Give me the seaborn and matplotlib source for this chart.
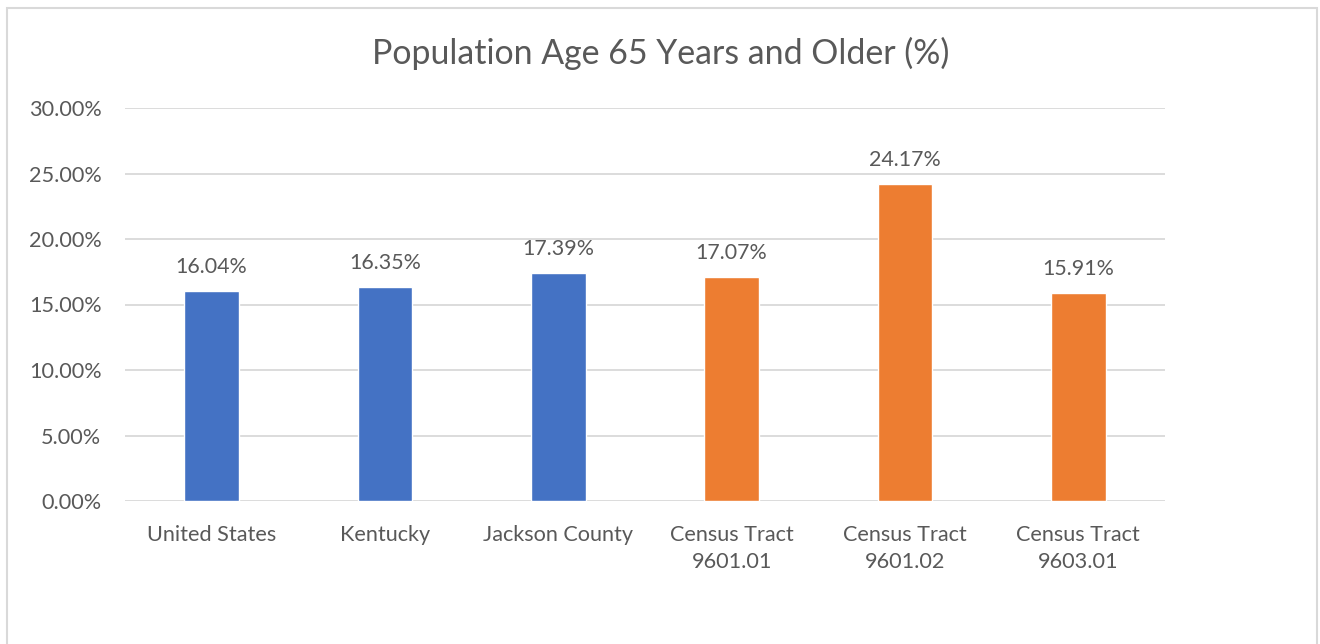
import matplotlib
matplotlib.use("Agg")
import matplotlib.pyplot as plt
import seaborn as sns
import pandas as pd
from matplotlib.patches import Rectangle
from matplotlib.ticker import FuncFormatter

categories = ["United States", "Kentucky", "Jackson County",
              "Census Tract\n9601.01", "Census Tract\n9601.02", "Census Tract\n9603.01"]
values = [16.04, 16.35, 17.39, 17.07, 24.17, 15.91]
groups = ["Area", "Area", "Area", "Tract", "Tract", "Tract"]
palette = {"Area": "#4472C4", "Tract": "#ED7D31"}
yticks = [0, 5, 10, 15, 20, 25, 30]

df = pd.DataFrame({"category": categories, "value": values, "group": groups})

sns.set_theme(style="white")
plt.rcParams['font.family'] = ['Lato', 'DejaVu Sans']
text_color = "#595959"

fig = plt.figure(figsize=(13.2, 6.44), dpi=100)
ax = fig.add_axes([125/1320, 143/644, 1040/1320, 393/644])

sns.barplot(data=df, x="category", y="value", hue="group", palette=palette,
            dodge=False, width=0.317, legend=False, ax=ax, saturation=1)

ax.set_ylim(0, 30)
ax.set_xlim(-0.5, 5.5)
ax.set_yticks(yticks)
ax.yaxis.set_major_formatter(FuncFormatter(lambda v, p: f"{v:.2f}%"))
ax.grid(axis="y", color="#D9D9D9", linewidth=1.3)
ax.set_axisbelow(True)
for s in ax.spines.values():
    s.set_visible(False)
ax.set_xlabel("")
ax.set_ylabel("")
ax.tick_params(axis="both", length=0, labelsize=15.6, colors=text_color)
ax.tick_params(axis="y", pad=17)
ax.tick_params(axis="x", pad=17)
for lbl in ax.get_xticklabels():
    lbl.set_linespacing(1.47)

for c in ax.containers:
    ax.bar_label(c, fmt="%.2f%%", padding=10, fontsize=15.4, color=text_color)

fig.text(661/1320, 1 - 53/644, "Population Age 65 Years and Older (%)",
         ha="center", va="center", fontsize=24.4, color=text_color)

fig.patches.append(Rectangle((7/1320, -0.1), 1310/1320, 1.1 - 8/644,
                             transform=fig.transFigure, fill=False,
                             edgecolor="#D9D9D9", linewidth=1.5))

fig.savefig("out.png", dpi=100)
